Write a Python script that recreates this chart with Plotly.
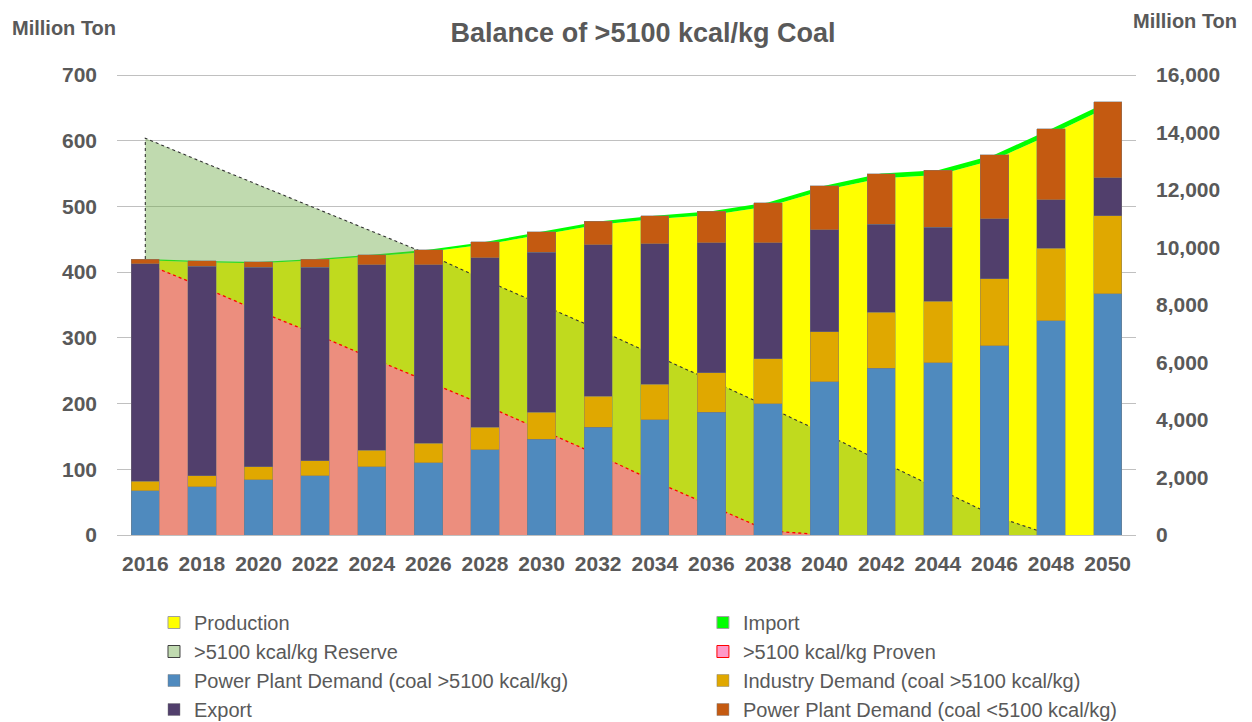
import plotly.graph_objects as go

# ---------------- data ----------------
years = [2016, 2018, 2020, 2022, 2024, 2026, 2028, 2030, 2032, 2034,
         2036, 2038, 2040, 2042, 2044, 2046, 2048, 2050]
year_labels = [str(y) for y in years]

# supply (left axis, million ton)
production = [418, 415, 413.5, 418, 424, 431, 442, 457, 472, 481,
              487, 500, 525, 543, 548, 571, 610, 651]
imports = [2, 2, 2, 2, 2.5, 3, 4, 4.5, 5, 5,
           5.5, 6, 6.5, 7, 7, 7.5, 8, 8]

# resources (right axis, million ton); None = no value plotted
reserve = [13800, 12980, 12180, 11360, 10560, 9760, 8870, 8000, 7150, 6250,
           5370, 4460, 3530, 2560, 1620, 660, 0, None]
proven = [9440, 8640, 7790, 6990, 6150, 5330, 4510, 3650, 2780, 1870,
          1000, 150, 0, None, None, None, None, None]

# demand (left axis, million ton)
pp_high = [67, 73.5, 84, 90, 103.5, 109.6, 129.4, 146, 164, 175.5,
           186.7, 200, 233, 254, 262, 288, 325.7, 367]
industry = [15, 16.5, 19.5, 23, 25.5, 30, 34.5, 40.7, 47, 54,
            60.3, 68.5, 76.6, 85, 94, 101.6, 111, 119]
export = [331, 319, 304, 294.5, 282, 271.5, 258, 243.5, 230.4, 214,
          198, 176.6, 155.2, 134, 112, 91.4, 73.6, 57.4]
pp_low = [7, 8, 8, 12.5, 15.6, 22.7, 24.4, 31, 36, 42.6,
          47.7, 60.8, 67, 76.6, 87, 97.8, 107.6, 115.6]

left_ticks = [0, 100, 200, 300, 400, 500, 600, 700]
right_ticks = [0, 2000, 4000, 6000, 8000, 10000, 12000, 14000, 16000]
LEFT_MAX = 700
RIGHT_MAX = 16000

# ---------------- styles ----------------
FONT = "Liberation Sans"
GREY = "#595959"
C_PROD = "#FFFF00"
C_IMP = "#00FF00"
C_RES_FILL = "rgba(108,169,70,0.43)"
C_PROV_FILL = "rgba(255,109,167,0.70)"
C_BLUE = "#4F8ABE"
C_GOLD = "#E0A800"
C_PURPLE = "#513F6C"
C_BROWN = "#C45A11"
BAR_LINE = dict(color="rgba(120,120,120,0.55)", width=0.8)

fig = go.Figure()

# supply areas (left axis)
fig.add_trace(go.Scatter(x=years, y=production, stackgroup="supply", mode="lines",
                         line=dict(width=0, color=C_PROD), fillcolor=C_PROD,
                         showlegend=False, hoverinfo="skip", yaxis="y"))
fig.add_trace(go.Scatter(x=years, y=imports, stackgroup="supply", mode="lines",
                         line=dict(width=0, color=C_IMP), fillcolor=C_IMP,
                         showlegend=False, hoverinfo="skip", yaxis="y"))

# resource areas (right axis)
fig.add_trace(go.Scatter(x=[years[0]] + years, y=[0] + reserve, mode="lines",
                         fill="tozeroy", fillcolor=C_RES_FILL,
                         line=dict(color="#333333", width=1.1, dash="dot"),
                         showlegend=False, hoverinfo="skip", yaxis="y2"))
fig.add_trace(go.Scatter(x=years, y=proven, mode="lines",
                         fill="tozeroy", fillcolor=C_PROV_FILL,
                         line=dict(color="#FF0000", width=1.3, dash="dot"),
                         showlegend=False, hoverinfo="skip", yaxis="y2"))

# demand bars (overlay axis so they sit above the areas)
bar_specs = [
    ("Power Plant Demand (coal >5100 kcal/kg)", pp_high, C_BLUE, "legend", 3),
    ("Industry Demand (coal >5100 kcal/kg)", industry, C_GOLD, "legend2", 3),
    ("Export", export, C_PURPLE, "legend", 4),
    ("Power Plant Demand (coal <5100 kcal/kg)", pp_low, C_BROWN, "legend2", 4),
]
for name, vals, col, lg, rank in bar_specs:
    fig.add_trace(go.Bar(x=years, y=vals, name=name, width=1,
                         marker=dict(color=col, line=BAR_LINE),
                         yaxis="y3", legend=lg, legendrank=rank))

# legend entries for the areas (square swatches)
legend_specs = [
    ("Production", C_PROD, "#A0A0A0", "legend", 1),
    ("Import", C_IMP, "#A0A0A0", "legend2", 1),
    (">5100 kcal/kg Reserve", "#C0DAB0", "#404040", "legend", 2),
    (">5100 kcal/kg Proven", "#FF99C8", "#FF0000", "legend2", 2),
]
for name, col, lcol, lg, rank in legend_specs:
    fig.add_trace(go.Scatter(x=[None], y=[None], mode="markers", name=name,
                             marker=dict(symbol="square", size=12, color=col,
                                         line=dict(color=lcol, width=1)),
                             legend=lg, legendrank=rank, yaxis="y"))

tick_font = dict(family=FONT, size=21, color=GREY, weight="bold")
legend_font = dict(family=FONT, size=20, color=GREY)

# plot area is a few px taller than the 0-700 span so the 700 gridline is drawn
PLOT_H = 463
pad = PLOT_H / 460.0

# page shows the figure with an 8px offset; size/margins account for it
fig.update_layout(
    width=1244, height=714,
    margin=dict(l=109, r=116, t=714 - 187 - PLOT_H, b=187, autoexpand=False),
    paper_bgcolor="white", plot_bgcolor="white",
    barmode="stack",
    title=dict(text="Balance of >5100 kcal/kg Coal", x=0.5105, xanchor="center",
               y=0.965, yanchor="middle", xref="container", yref="container",
               font=dict(family=FONT, size=27, color=GREY, weight="bold")),
    xaxis=dict(range=[2015, 2051], tickmode="array", tickvals=years, ticktext=year_labels,
               showgrid=False, zeroline=False, showline=False, ticks="",
               tickfont=tick_font, ticklabelstandoff=14),
    yaxis=dict(range=[0, LEFT_MAX * pad], tickmode="array", tickvals=left_ticks,
               showgrid=True, gridcolor="#C0C0C0", gridwidth=1,
               zeroline=True, zerolinecolor="#C0C0C0", zerolinewidth=1,
               showline=False, ticks="", tickfont=tick_font, ticklabelstandoff=19),
    yaxis2=dict(range=[0, RIGHT_MAX * pad], tickmode="array", tickvals=right_ticks,
                tickformat=",d", overlaying="y", side="right", showgrid=False,
                zeroline=False, showline=False, ticks="", tickfont=tick_font,
                ticklabelstandoff=19),
    yaxis3=dict(range=[0, LEFT_MAX * pad], overlaying="y", visible=False,
                showgrid=False, zeroline=False),
    legend=dict(x=0.0363, xanchor="left", y=-68 / PLOT_H, yanchor="top",
                orientation="v", font=legend_font, bgcolor="rgba(0,0,0,0)",
                traceorder="normal", itemclick=False),
    legend2=dict(x=0.575, xanchor="left", y=-68 / PLOT_H, yanchor="top",
                 orientation="v", font=legend_font, bgcolor="rgba(0,0,0,0)",
                 traceorder="normal", itemclick=False),
    annotations=[
        dict(text="Million Ton", xref="paper", yref="paper", x=-0.105,
             y=(535 - 27.5) / PLOT_H, xanchor="left", yanchor="middle", showarrow=False,
             font=dict(family=FONT, size=20, color=GREY, weight="bold")),
        dict(text="Million Ton", xref="paper", yref="paper", x=1.0476,
             y=(535 - 20.5) / PLOT_H, xanchor="center", yanchor="middle", showarrow=False,
             font=dict(family=FONT, size=20, color=GREY, weight="bold")),
    ],
)

fig.write_html("out.html")
